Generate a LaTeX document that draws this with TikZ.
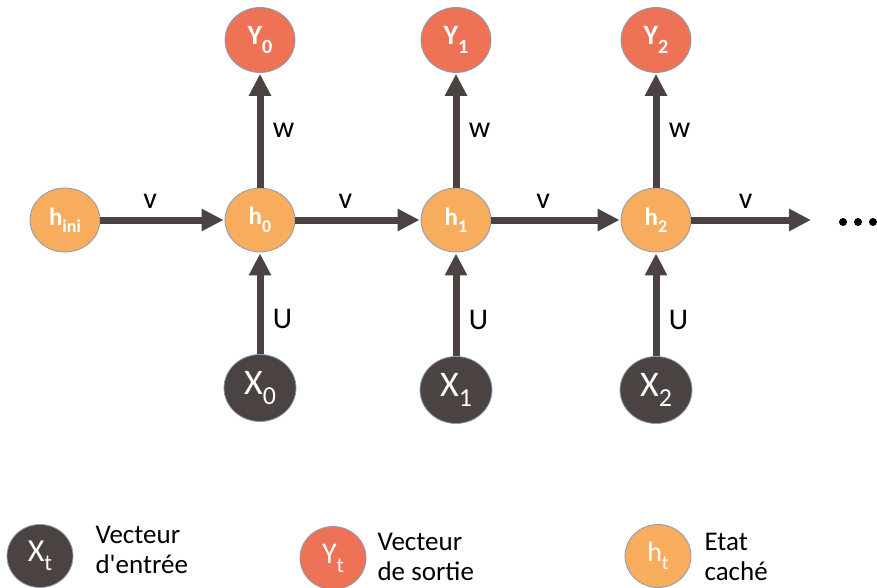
\documentclass[tikz,border=0pt]{standalone}
\usepackage{fontspec}
\setmainfont{Carlito}
\usetikzlibrary{arrows.meta,shapes.geometric}
\definecolor{hcol}{HTML}{F8AD5E}
\definecolor{ycol}{HTML}{EE7356}
\definecolor{xcol}{HTML}{4A4341}
\definecolor{edgecol}{HTML}{4A4341}
\definecolor{rimcol}{HTML}{8A9CB0}
\newcommand{\sbs}[1]{\raisebox{-0.3em}{\scalebox{0.72}{#1}}}
\tikzset{
  hnode/.style={ellipse, fill=hcol, draw=rimcol, line width=0.8pt, minimum width=70pt, minimum height=64pt, inner sep=0pt, text=white, font=\fontsize{25}{25}\selectfont\bfseries},
  ynode/.style={ellipse, fill=ycol, draw=rimcol, line width=0.8pt, minimum width=70pt, minimum height=65pt, inner sep=0pt, text=white, font=\fontsize{28}{28}\selectfont\bfseries},
  xnode/.style={ellipse, fill=xcol, draw=rimcol, line width=0.8pt, minimum width=72pt, minimum height=67pt, inner sep=0pt, text=white, font=\fontsize{36}{36}\selectfont},
  conn/.style={draw=edgecol, line width=7pt, -{Triangle[width=21pt,length=22pt]}, shorten >=1pt},
  elab/.style={font=\fontsize{30}{30}\selectfont, text=black},
  legtext/.style={font=\fontsize{27}{30}\selectfont, align=left, anchor=west, text=black},
}
\begin{document}
\begin{tikzpicture}[x=1pt,y=-1pt]
\useasboundingbox (0,0) rectangle (877,588);
% nodes
\node[hnode] (hini) at (65,220) {h\sbs{ini}};
\node[hnode] (h0) at (260,220) {h\sbs{0}};
\node[hnode] (h1) at (456,220) {h\sbs{1}};
\node[hnode] (h2) at (656,220) {h\sbs{2}};
\node[ynode] (y0) at (260,40) {Y\sbs{0}};
\node[ynode] (y1) at (456,40) {Y\sbs{1}};
\node[ynode] (y2) at (656,40) {Y\sbs{2}};
\node[xnode] (x0) at (260,388) {X\sbs{\normalfont 0}};
\node[xnode] (x1) at (456,390) {X\sbs{1}};
\node[xnode] (x2) at (656,390) {X\sbs{2}};
\coordinate (end) at (812,220);
% horizontal connectors
\draw[conn] (hini) -- node[elab, above=5pt, pos=0.4] {v} (h0);
\draw[conn] (h0) -- node[elab, above=5pt, pos=0.4] {v} (h1);
\draw[conn] (h1) -- node[elab, above=5pt, pos=0.4] {v} (h2);
\draw[conn] (h2) -- node[elab, above=5pt, pos=0.45] {v} (end);
% vertical connectors
\draw[conn] (h0) -- node[elab, right=6pt] {w} (y0);
\draw[conn] (h1) -- node[elab, right=6pt] {w} (y1);
\draw[conn] (h2) -- node[elab, right=6pt] {w} (y2);
\draw[conn] (x0) -- node[elab, right=6pt, pos=0.35] {U} (h0);
\draw[conn] (x1) -- node[elab, right=6pt, pos=0.35] {U} (h1);
\draw[conn] (x2) -- node[elab, right=6pt, pos=0.35] {U} (h2);
% dots
\node[circle, fill=black, inner sep=0pt, minimum size=8pt] (d1) at (843,222) {};
\node[circle, fill=black, inner sep=0pt, minimum size=8pt] (d2) at (858,222) {};
\node[circle, fill=black, inner sep=0pt, minimum size=8pt] (d3) at (873,222) {};
% legend
\node[xnode, minimum width=66pt, minimum height=63pt, font=\fontsize{32}{32}\selectfont] (lx) at (40,556) {X\sbs{t}};
\node[legtext] (lxt) at (92,550) {Vecteur\\d\textquotesingle entrée};
\node[ynode, minimum width=66pt, minimum height=63pt, font=\fontsize{30}{30}\selectfont\mdseries] (ly) at (333,558) {Y\sbs{t}};
\node[legtext] (lyt) at (374,557) {Vecteur\\de sortie};
\node[hnode, minimum width=66pt, minimum height=63pt, font=\fontsize{28}{28}\selectfont\mdseries] (lh) at (658,556) {h\sbs{t}};
\node[legtext] (lht) at (701,557) {Etat\\caché};
\end{tikzpicture}
\end{document}
